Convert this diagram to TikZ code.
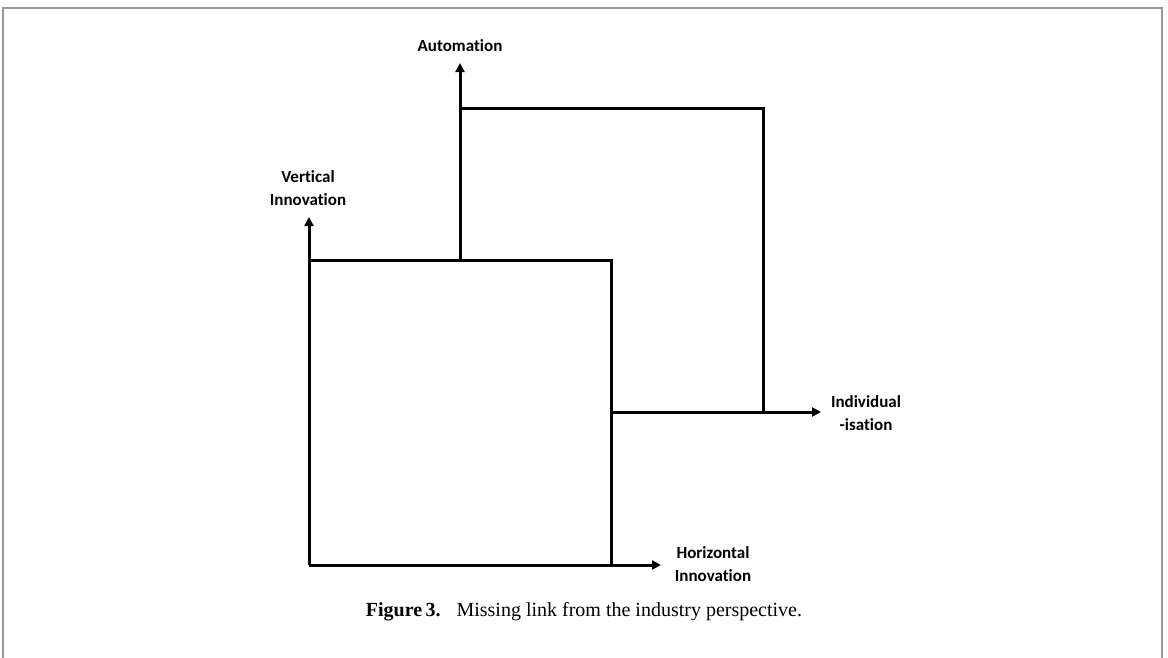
\documentclass[tikz,border=0pt]{standalone}
\usepackage{fontspec}
\setmainfont{Liberation Serif}
\newfontfamily\lblfont[Ligatures={NoCommon}]{Carlito}
\usetikzlibrary{arrows.meta}
\begin{document}
\begin{tikzpicture}[x=1pt,y=-1pt,
  axis/.style={line width=3pt,-{Triangle[length=9pt,width=9pt]}},
  edge/.style={line width=3pt},
  lbl/.style={font=\lblfont\bfseries\fontsize{17}{23}\selectfont,align=center,inner sep=0pt},
  frame/.style={draw=black!40,line width=1.2pt}]
\useasboundingbox (0,0) rectangle (1168,657);
\draw[frame] (3,660) -- (3,8) -- (1162,8) -- (1162,660);
% coordinates
\coordinate (o1) at (309,565);
\coordinate (v1) at (309,217);
\coordinate (h1) at (661,565);
\coordinate (tl1) at (309,260);
\coordinate (tr1) at (611,260);
\coordinate (br1) at (611,565);
\coordinate (o2) at (460,260);
\coordinate (a2) at (460,63);
\coordinate (tl2) at (460,108);
\coordinate (tr2) at (763,108);
\coordinate (br2) at (763,412);
\coordinate (bl2) at (611,412);
\coordinate (i2) at (821,412);
% lines
\draw[edge] (tl1) -- (tr1) -- (br1);
\draw[edge] (tl2) -- (tr2) -- (br2);
\draw[axis] (o1) -- (v1);
\draw[axis] (o1) -- (h1);
\draw[axis] (o2) -- (a2);
\draw[axis] (bl2) -- (i2);
% labels
\node[lbl] (la) at (460,46) {Automation};
\node[lbl] (lv) at (308,188) {Vertical\\Innovation};
\node[lbl] (li) at (866,413) {Individual\\-isation};
\node[lbl] (lh) at (713,564) {Horizontal\\Innovation};
\node[inner sep=0pt,font=\fontsize{20}{24}\selectfont] (cap) at (584,612) {\textbf{Figure\,3.}\hspace{0.8em}Missing link from the industry perspective.};
\end{tikzpicture}
\end{document}
